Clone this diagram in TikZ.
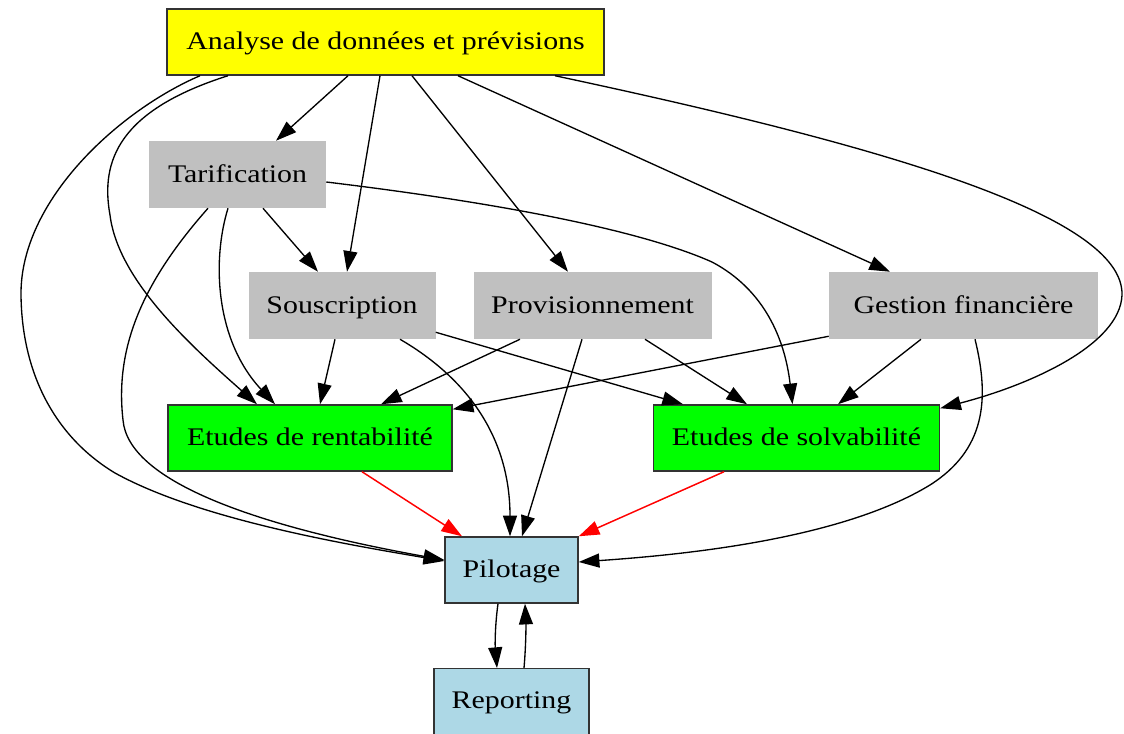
\documentclass[tikz,border=0pt]{standalone}
\usepackage{fontspec}
\usepackage{graphicx}
\setmainfont{Liberation Serif}
\usetikzlibrary{calc,arrows.meta}
\newcommand{\stretchtxt}[1]{\scalebox{1.18}[1]{#1}}
\definecolor{boxgray}{HTML}{C0C0C0}
\definecolor{boxyellow}{HTML}{FFFF00}
\definecolor{boxgreen}{HTML}{00FF00}
\definecolor{boxblue}{HTML}{ADD8E6}
\definecolor{edgered}{HTML}{FF0000}
\begin{document}
\begin{tikzpicture}[x=0.75pt,y=-0.75pt,
  every node/.style={font=\fontsize{19}{22}\selectfont, inner sep=0pt, text height=16pt, text depth=4.3pt},
  framed/.style={draw=black!80, line width=1.1pt},
  grayed/.style={fill=boxgray},
  yellowbox/.style={framed, fill=boxyellow},
  greenbox/.style={framed, fill=boxgreen},
  bluebox/.style={framed, fill=boxblue},
  edge/.style={line width=1pt, -{Triangle[length=15.5pt,width=10.5pt]}},
  rededge/.style={edge, line width=1.1pt, draw=edgered, -{Triangle[length=15.5pt,width=10.5pt,fill=edgered]}}]
\useasboundingbox (0,0) rectangle (1124,734);
\clip (0,0) rectangle (1124,734);
\fill[white] (0,0) rectangle (1124,734);

\node[yellowbox, minimum width=437*0.75pt, minimum height=66*0.75pt] (A) at (385.5,42) {\stretchtxt{Analyse de données et prévisions}};
\node[grayed, minimum width=177*0.75pt, minimum height=67*0.75pt] (T) at (237.5,174.5) {\stretchtxt{Tarification}};
\node[grayed, minimum width=187*0.75pt, minimum height=67*0.75pt] (S) at (342,305.5) {\stretchtxt{Souscription}};
\node[grayed, minimum width=238*0.75pt, minimum height=67*0.75pt] (P) at (592.5,305.5) {\stretchtxt{Provisionnement}};
\node[grayed, minimum width=269*0.75pt, minimum height=67*0.75pt] (G) at (963.5,305.5) {\stretchtxt{Gestion financière}};
\node[greenbox, minimum width=284*0.75pt, minimum height=66*0.75pt] (R) at (310,438) {\stretchtxt{Etudes de rentabilité}};
\node[greenbox, minimum width=286*0.75pt, minimum height=66*0.75pt] (V) at (796.5,438) {\stretchtxt{Etudes de solvabilité}};
\node[bluebox, minimum width=133*0.75pt, minimum height=66*0.75pt] (Pi) at (511.5,570) {\stretchtxt{Pilotage}};
\node[bluebox, minimum width=155*0.75pt, minimum height=80*0.75pt, anchor=north] (Rep) at (511.5,668) {};
\node (RepText) at (511.5,701) {\stretchtxt{Reporting}};

% from Analyse
\draw[edge] ($(A.south)+(-37.5,0)$) -- ($(T.north)+(38.5,0)$);
\draw[edge] ($(A.south)+(-5.5,0)$) -- ($(S.north)+(5,0)$);
\draw[edge] ($(A.south)+(26.5,0)$) -- ($(P.north)+(-24.5,0)$);
\draw[edge] ($(A.south)+(72.5,0)$) -- ($(G.north)+(-73.5,0)$);
\draw[edge] ($(A.south)+(169.5,0)$) .. controls (880,145) and (1124,215) .. (1122,295)
  .. controls (1120,345) and (1030,385) .. ($(V.north east)+(0,4)$);
\draw[edge] ($(A.south)+(-157.5,0)$) .. controls (120,110) and (100,160) .. (110,215)
  .. controls (118,280) and (190,345) .. ($(R.north)+(-53,0)$);
\draw[edge] ($(A.south)+(-185.5,0)$) .. controls (120,110) and (20,200) .. (21,295)
  .. controls (22,380) and (60,440) .. (115,473)
  .. controls (200,520) and (350,545) .. ($(Pi.west)+(0,-9)$);

% from Tarification
\draw[edge] ($(T.south)+(25.5,0)$) -- ($(S.north)+(-24,0)$);
\draw[edge] ($(T.south)+(-9.5,0)$) .. controls (212,260) and (215,340) .. ($(R.north)+(-35,0)$);
\draw[edge] ($(T.south)+(-29.5,0)$) .. controls (140,285) and (115,350) .. (123,420)
  .. controls (128,480) and (250,525) .. ($(Pi.west)+(0,-10)$);
\draw[edge] ($(T.east)+(0,7.5)$) .. controls (500,203) and (640,230) .. (712,262)
  .. controls (765,290) and (785,340) .. ($(V.north)+(-4,0)$);

% from Souscription
\draw[edge] ($(S.south)+(-7,0)$) -- ($(R.north)+(10,0)$);
\draw[edge] ($(S.south)+(58,0)$) .. controls (470,380) and (510,440) .. ($(Pi.north)+(-1.5,0)$);
\draw[edge] ($(S.south east)+(0,-7)$) -- ($(V.north)+(-113.5,0)$);

% from Provisionnement
\draw[edge] ($(P.south)+(-72.5,0)$) -- ($(R.north)+(71,0)$);
\draw[edge] ($(P.south)+(-10.5,0)$) -- ($(Pi.north)+(10.5,0)$);
\draw[edge] ($(P.south)+(52.5,0)$) -- ($(V.north)+(-49.5,0)$);

% from Gestion financiere
\draw[edge] ($(G.south west)+(0,-3)$) -- ($(R.north east)+(0,5)$);
\draw[edge] ($(G.south)+(-42.5,0)$) -- ($(V.north)+(41.5,0)$);
\draw[edge] ($(G.south)+(11.5,0)$) .. controls (990,400) and (985,450) .. (930,485)
  .. controls (840,540) and (680,555) .. ($(Pi.east)+(0,-8)$);

% red edges
\draw[rededge] ($(R.south)+(52,0)$) -- ($(Pi.north)+(-49.5,0)$);
\draw[rededge] ($(V.south)+(-72.5,0)$) -- (Pi.north east);

% Pilotage <-> Reporting
\draw[edge] ($(Pi.south)+(-13.5,0)$) .. controls (495,625) and (495,645) .. ($(Rep.north)+(-14.5,0)$);
\draw[edge] ($(Rep.north)+(12.5,0)$) .. controls (526,645) and (526,625) .. ($(Pi.south)+(13.5,0)$);
\end{tikzpicture}
\end{document}
